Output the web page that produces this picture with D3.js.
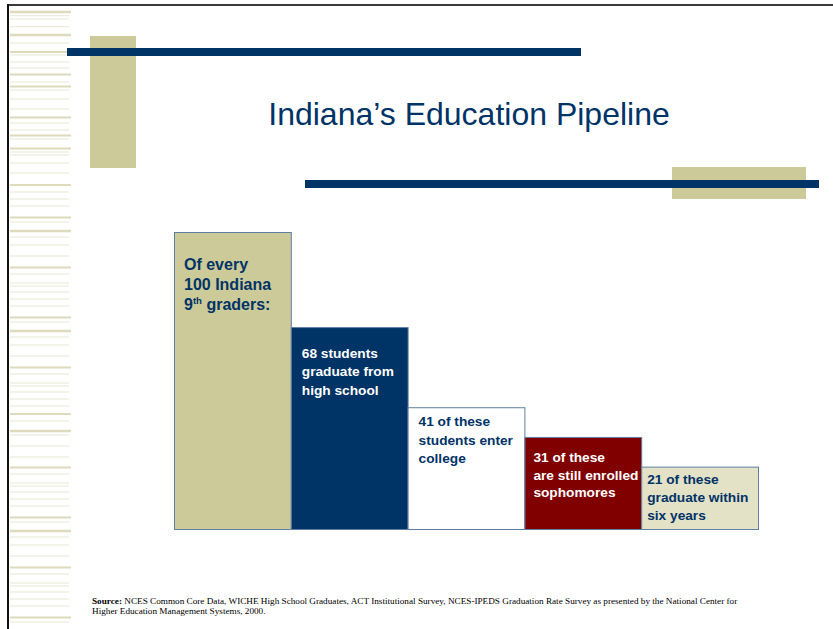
<!DOCTYPE html>
<html>
<head>
<meta charset="utf-8">
<script src="https://cdn.jsdelivr.net/npm/d3@7/dist/d3.min.js"></script>
<style>
  html, body { margin: 0; padding: 0; background: #ffffff; }
  svg { display: block; }
</style>
</head>
<body>
<div id="chart"></div>
<script>
// ---------------- data ----------------
const stages = ["9th graders", "HS graduates", "Enter college", "Enrolled sophomores", "Graduate in six years"];
const students = [100, 68, 41, 31, 21];
const stageLabels = [
  ["Of every", "100 Indiana", "9|th| graders:"],
  ["68 students", "graduate from", "high school"],
  ["41 of these", "students enter", "college"],
  ["31 of these", "are still enrolled", "sophomores"],
  ["21 of these", "graduate within", "six years"]
];
const title = "Indiana’s Education Pipeline";
const sourceBold = "Source:";
const sourceLine1 = " NCES Common Core Data, WICHE High School Graduates, ACT Institutional Survey, NCES-IPEDS Graduation Rate Survey as presented by the National Center for";
const sourceLine2 = "Higher Education Management Systems, 2000.";

// ---------------- styles / layout ----------------
const W = 833, H = 629;
const barFill = ["#CCCA99", "#003366", "#FFFFFF", "#800000", "#E3E1C6"];
const labelColor = ["#003366", "#FFFFFF", "#003366", "#FFFFFF", "#003366"];
const labelPad = [10, 11, 11, 9, 6];
const labelFirst = [38, 31, 19, 25, 17];
const labelLead = [20, 18.4, 18.3, 17.6, 18];
const labelSize = [16, 13.7, 13.7, 13.7, 13.7];
// decorative left stripes (y, thickness)
const stripes = [
  [12,2.5],[15.7,1],[19,1],[26.7,1],[35,2.5],[43,1],[52,2],[55,1],[62,1],[68,1],[74.5,2],[82,1],[86.5,2],[90,1],[99,1],
  [109,1],[117.5,2],[123,1],[130,1],[135.5,2],[139,1],[148.5,2],[152,1],[155,1],[163,1],[173,1],[185,2],[192,1],[199,1],
  [206,1],[217.5,2],[222,1],[231,2.5],[237,1],[245,1],[256,1],[267.5,2],[274,1],[283,1],[286,1],[292,1],[299,1],
  [306,1],[317.5,2],[322,1],[331,2.5],[337,1],[345,1],[356,1],[367.5,2],[374,1],[383,1],[386,1],[392,1],[399,1],
  [406,1],[414,2],[421,1],[431,2.5],[435,1],[446,1],[457,1],[467.5,2],[474,1],[483,1],[486,1],[492,1],[499,1],
  [506,1],[517.5,2],[522,1],[531,2.5],[537,1],[545,1],[556,1],[567.5,2],[574,1],[583,1],[586,1],[592,1],[599,1],
  [606,1],[617.5,2],[622,1]
];

const svg = d3.select("#chart").append("svg").attr("width", W).attr("height", H);

svg.append("rect").attr("x", 0).attr("y", 0).attr("width", W).attr("height", H).attr("fill", "#fff");

// stripes
svg.append("g").selectAll("rect").data(stripes).join("rect")
  .attr("x", 10).attr("width", d => d[1] > 1 ? 61 : 59)
  .attr("y", d => d[0] - d[1] / 2).attr("height", d => d[1])
  .attr("fill", d => d[1] > 1 ? "#DEDBBC" : "#E9E7D3");

svg.append("line").attr("x1", 8).attr("x2", W).attr("y1", 5).attr("y2", 5)
  .attr("stroke", "#3a3a3a").attr("stroke-width", 2);
svg.append("line").attr("x1", 8).attr("x2", 8).attr("y1", 4).attr("y2", H)
  .attr("stroke", "#111").attr("stroke-width", 2);

// title decorations
svg.append("rect").attr("x", 90).attr("y", 36).attr("width", 46).attr("height", 132).attr("fill", "#CCCA99");
svg.append("rect").attr("x", 67).attr("y", 48).attr("width", 514).attr("height", 8).attr("fill", "#003366");
svg.append("rect").attr("x", 672).attr("y", 167).attr("width", 134).attr("height", 32).attr("fill", "#CCCA99");
svg.append("rect").attr("x", 305).attr("y", 180).attr("width", 514).attr("height", 8).attr("fill", "#003366");

svg.append("text").attr("x", 469).attr("y", 125).attr("text-anchor", "middle")
  .attr("font-family", "Liberation Sans, Arial, sans-serif").attr("font-size", 32)
  .attr("fill", "#003366").text(title);

// ---------------- bars ----------------
const x = d3.scaleBand().domain(stages).range([174, 758]).padding(0);
const y = d3.scaleLinear().domain([0, 100]).range([529, 232]);

const data = stages.map((s, i) => ({ s, v: students[i], i }));

const g = svg.append("g");
g.selectAll("rect").data(data).join("rect")
  .attr("x", d => x(d.s) + 0.5).attr("width", x.bandwidth())
  .attr("y", d => y(d.v) + 0.5).attr("height", d => y(0) - y(d.v))
  .attr("fill", d => barFill[d.i])
  .attr("stroke", "#5F7FA3").attr("stroke-width", 1);

// labels
data.forEach(d => {
  const t = g.append("text")
    .attr("font-family", "Liberation Sans, Arial, sans-serif")
    .attr("font-weight", "bold").attr("font-size", labelSize[d.i])
    .attr("fill", labelColor[d.i]);
  stageLabels[d.i].forEach((line, k) => {
    const tx = x(d.s) + labelPad[d.i];
    const ty = y(d.v) + labelFirst[d.i] + k * labelLead[d.i];
    if (line.includes("|")) {
      const parts = line.split("|");
      t.append("tspan").attr("x", tx).attr("y", ty).text(parts[0]);
      t.append("tspan").attr("font-size", labelSize[d.i] * 0.6).attr("dy", -6).text(parts[1]);
      t.append("tspan").attr("dy", 6).text(parts[2]);
    } else {
      t.append("tspan").attr("x", tx).attr("y", ty).text(line);
    }
  });
});

// source
const src = svg.append("text").attr("font-family", "Liberation Serif, Times New Roman, serif")
  .attr("font-size", 9.2).attr("fill", "#000");
src.append("tspan").attr("x", 92).attr("y", 604).attr("font-weight", "bold").text(sourceBold);
src.append("tspan").text(sourceLine1);
src.append("tspan").attr("x", 92).attr("y", 614).text(sourceLine2);
</script>
</body>
</html>
